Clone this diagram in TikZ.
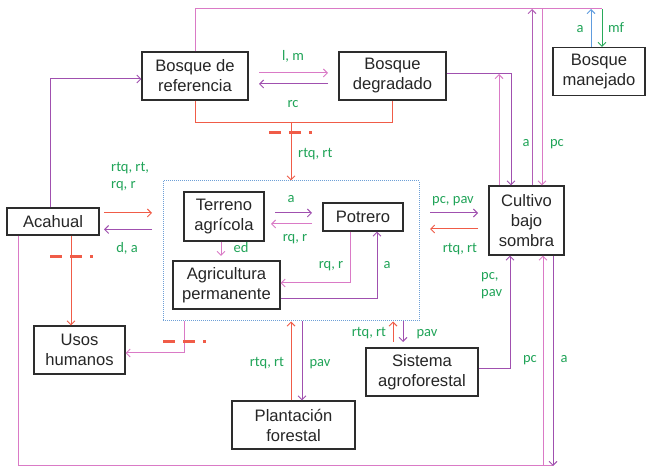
\documentclass[tikz,border=0pt]{standalone}
\usepackage{fontspec}
\setmainfont{Liberation Sans}
\newfontfamily\labfont{Carlito}
\usetikzlibrary{arrows.meta}
\definecolor{pk}{RGB}{218,122,198}
\definecolor{pu}{RGB}{160,80,175}
\definecolor{rd}{RGB}{240,92,72}
\definecolor{gtext}{RGB}{32,164,88}
\definecolor{bl}{RGB}{96,156,222}
\definecolor{garr}{RGB}{40,170,90}
\definecolor{dotb}{RGB}{110,160,215}
\definecolor{boxc}{RGB}{45,45,45}
\tikzset{
 box/.style={draw=boxc, line width=1.1pt, fill=white, inner sep=0pt, align=center,
   font=\fontsize{16.6}{20}\selectfont, text=black!85},
 lab/.style={text=gtext, inner sep=0pt, font=\labfont\fontsize{14.5}{17}\selectfont},
 arr/.style={-{Straight Barb[length=4pt,width=8pt,line width=0.9pt]}},
 pkl/.style={line width=1pt, draw=pk},
 pul/.style={line width=1pt, draw=pu},
 rdl/.style={line width=1pt, draw=rd},
 bll/.style={line width=1pt, draw=bl},
 gal/.style={line width=1pt, draw=garr},
 dmark/.style={draw=rd, line width=3pt, dash pattern=on 12pt off 8pt on 12pt off 8pt on 3pt off 50pt}
}
\begin{document}
\begin{tikzpicture}[x=1pt,y=-1pt]
\useasboundingbox (0,0) rectangle (646,470);
\fill[white] (0,0) rectangle (646,470);

% center dotted frame
\node[draw=dotb, line width=1pt, dash pattern=on 1pt off 1pt, minimum width=256pt, minimum height=140pt, inner sep=0pt] (cbox) at (291,251) {};

% boxes
\node[box, minimum width=106pt, minimum height=48pt] (bref) at (195,76) {Bosque de\\referencia};
\node[box, minimum width=107pt, minimum height=48pt] (bdeg) at (392.5,76) {Bosque\\degradado};
\node[box, minimum width=92pt, minimum height=48pt] (bman) at (599,71.5) {Bosque\\manejado};
\node[box, minimum width=92pt, minimum height=27pt] (acah) at (53,221.5) {Acahual};
\node[box, minimum width=80pt, minimum height=49pt] (terr) at (224,216.5) {Terreno\\agrícola};
\node[box, minimum width=80pt, minimum height=28pt] (pot) at (363,217) {Potrero};
\node[box, minimum width=107pt, minimum height=48pt] (agri) at (226.5,285) {Agricultura\\permanente};
\node[box, minimum width=75pt, minimum height=69pt] (cbs) at (526.5,220.5) {Cultivo\\bajo\\sombra};
\node[box, minimum width=91pt, minimum height=48pt] (usos) at (79.5,350) {Usos\\humanos};
\node[box, minimum width=123pt, minimum height=48pt] (plant) at (293.5,425) {Plantación\\forestal};
\node[box, minimum width=112pt, minimum height=48pt] (sist) at (422,372) {Sistema\\agroforestal};

% coordinates
\coordinate (tR) at (602,9);
\coordinate (tB) at (591,9);
\coordinate (t532) at (532,9);
\coordinate (t542) at (542,9);
\coordinate (d511) at (511,74);
\coordinate (d499) at (499,74);
\coordinate (rj) at (291,122);
\coordinate (a50) at (50,79);
\coordinate (a71) at (71,0);
\coordinate (b18) at (18,466);
\coordinate (b553) at (553,466);
\coordinate (b543) at (543,466);
\coordinate (e221) at (221,256);
\coordinate (p350) at (350,283);
\coordinate (p377) at (377,299);
\coordinate (u184) at (184,353);
\coordinate (l291) at (291,0);
\coordinate (l302) at (302,0);
\coordinate (s393) at (393,342);
\coordinate (s403) at (403,342);
\coordinate (s510) at (510,369);
\coordinate (bm1) at (259,73);
\coordinate (bm2) at (328,73);
\coordinate (bm3) at (328,84);
\coordinate (bm4) at (259,84);
\coordinate (ac1) at (104,213);
\coordinate (ac2) at (152,213);
\coordinate (ac3) at (152,229.5);
\coordinate (ac4) at (104,229.5);
\coordinate (cc1) at (430,213);
\coordinate (cc2) at (478,213);
\coordinate (cc3) at (478,229);
\coordinate (cc4) at (430,229);
\coordinate (tp1) at (275,213);
\coordinate (tp2) at (312,213);
\coordinate (tp3) at (312,224);
\coordinate (tp4) at (271,224);

% top connections
\draw[pkl] (bref.north) |- (tR);
\draw[gal,arr] (tR) -- (tR |- bman.north);
\draw[bll,arr] (tB |- bman.north) -- (tB);
\draw[pul,draw=pu!70!pk,arr] (t532 |- cbs.north) -- (t532);
\draw[pkl,arr] (t542) -- (t542 |- cbs.north);
\draw[pul,arr] (bdeg.east |- d511) -- (d511) -- (d511 |- cbs.north);
\draw[pkl,arr] (d499 |- cbs.north) -- (d499);

% bosques
\draw[pkl,arr] (bm1) -- (bm2);
\draw[pul,arr] (bm3) -- (bm4);
\draw[rdl] (bref.south) -- ++(0,22) -| (bdeg.south);
\draw[rdl,arr] (rj) -- (cbox.north);
\draw[dmark] (269,133) -- (313,133);

% acahual
\draw[pul,arr] (a50 |- acah.north) -- (a50) -- (bref.west |- a50);
\draw[rdl,arr] (ac1) -- (ac2);
\draw[pul,arr] (ac3) -- (ac4);
\draw[rdl,arr] (acah.south -| a71) -- (usos.north -| a71);
\draw[dmark] (50,257) -- (93,257);
\draw[pkl] (acah.south -| b18) -- (b18) -- (b553);
\draw[pul,arr] (b553 |- cbs.south) -- (b553);
\draw[pkl,arr] (b543) -- (b543 |- cbs.south);

% center to cultivo
\draw[pul,arr] (cc1) -- (cc2);
\draw[rdl,arr] (cc3) -- (cc4);

% inside center
\draw[pul,arr] (tp1) -- (tp2);
\draw[pkl,arr] (tp3) -- (tp4);
\draw[pkl,arr] (terr.south -| e221) -- (e221);
\draw[pkl,arr] (pot.south -| p350) -- (p350) -- (agri.east |- p350);
\draw[pul,arr] (agri.east |- p377) -- (p377) -- (p377 |- pot.south);

% center to usos
\draw[pkl,arr] (cbox.south -| u184) -- (u184) -- (usos.east |- u184);
\draw[dmark] (163,342) -- (206,342);

% plantacion
\draw[rdl,arr] (plant.north -| l291) -- (cbox.south -| l291);
\draw[pul,arr] (cbox.south -| l302) -- (plant.north -| l302);

% sistema
\draw[rdl,arr] (s393) -- (cbox.south -| s393);
\draw[pul,arr] (cbox.south -| s403) -- (s403);
\draw[pul,arr] (sist.east |- s510) -- (s510) -- (s510 |- cbs.south);

% labels
\node[lab, anchor=base] (llm) at (293,61) {l, m};
\node[lab, anchor=base] (lrc) at (293,108) {rc};
\node[lab, anchor=base west] (lrt1) at (298,158) {rtq, rt};
\node[lab, anchor=base west, align=left] (lac1) at (111,189) {rtq, rt,\\rq, r};
\node[lab, anchor=base] (lda) at (127,253) {d, a};
\node[lab, anchor=base] (la1) at (291,203) {a};
\node[lab, anchor=base] (lrq1) at (295,242) {rq, r};
\node[lab, anchor=base] (led) at (241,253) {ed};
\node[lab, anchor=base] (lrq2) at (331,269) {rq, r};
\node[lab, anchor=base] (la2) at (387,269) {a};
\node[lab, anchor=base] (lpc1) at (453,204) {pc, pav};
\node[lab, anchor=base] (lrt2) at (460,253) {rtq, rt};
\node[lab, anchor=base west, align=left] (lpc2) at (481,297) {pc,\\pav};
\node[lab, anchor=base] (lpav1) at (427,337) {pav};
\node[lab, anchor=base] (lrt3) at (369,337) {rtq, rt};
\node[lab, anchor=base] (lrt4) at (267,367) {rtq, rt};
\node[lab, anchor=base] (lpav2) at (320,367) {pav};
\node[lab, anchor=base] (la3) at (526,147) {a};
\node[lab, anchor=base] (lpc3) at (557,147) {pc};
\node[lab, anchor=base] (la4) at (580,33) {a};
\node[lab, anchor=base] (lmf) at (616,33) {mf};
\node[lab, anchor=base] (lpc4) at (530,363) {pc};
\node[lab, anchor=base] (la5) at (564,363) {a};
\end{tikzpicture}
\end{document}
